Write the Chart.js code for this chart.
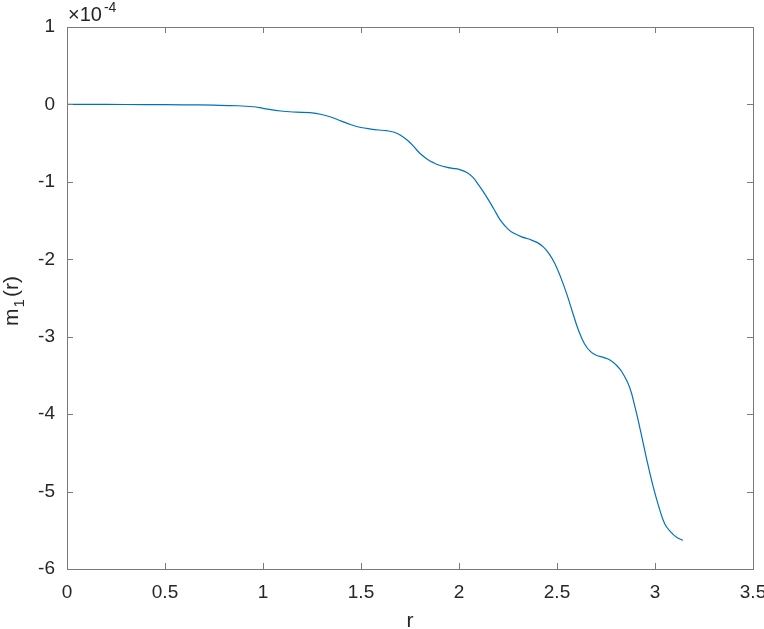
<!DOCTYPE html>
<html>
<head>
<meta charset="utf-8">
<script src="https://cdn.jsdelivr.net/npm/chart.js@4"></script>
<style>
  html, body { margin: 0; padding: 0; background: #fff; }
  #wrap { width: 764px; height: 629px; }
</style>
</head>
<body>
<div id="wrap"><canvas id="plot_m1"></canvas></div>
<script>
// r values
const r_vals = [0, 0.2, 0.4, 0.6, 0.75, 0.87, 0.95, 1.0, 1.09, 1.17, 1.24, 1.30, 1.35, 1.40,
                1.45, 1.50, 1.55, 1.59, 1.63, 1.67, 1.70, 1.74, 1.77, 1.80, 1.84, 1.87, 1.90,
                1.94, 1.97, 2.0, 2.04, 2.07, 2.10, 2.14, 2.18, 2.21, 2.25, 2.28, 2.32, 2.36,
                2.40, 2.43, 2.46, 2.49, 2.52, 2.55, 2.58, 2.61, 2.64, 2.67, 2.70, 2.74, 2.77,
                2.80, 2.83, 2.87, 2.90, 2.93, 2.96, 2.99, 3.02, 3.05, 3.08, 3.11, 3.1416];
// m_1(r) in units of 1e-4
const m1_e4 = [0, 0, -0.002, -0.005, -0.01, -0.017, -0.03, -0.05, -0.085, -0.1, -0.107, -0.13,
               -0.165, -0.215, -0.262, -0.298, -0.318, -0.33, -0.339, -0.36, -0.395, -0.47,
               -0.546, -0.63, -0.71, -0.753, -0.785, -0.812, -0.826, -0.839, -0.88, -0.94,
               -1.04, -1.19, -1.36, -1.49, -1.61, -1.665, -1.71, -1.742, -1.785, -1.84, -1.93,
               -2.06, -2.24, -2.45, -2.69, -2.92, -3.09, -3.19, -3.24, -3.27, -3.30, -3.36,
               -3.45, -3.65, -3.93, -4.26, -4.61, -4.93, -5.20, -5.42, -5.52, -5.59, -5.63];

const x_ticks = [0, 0.5, 1, 1.5, 2, 2.5, 3, 3.5];
const y_ticks = [-6, -5, -4, -3, -2, -1, 0, 1];
const exp_label = ['\u00d710', '-4'];
const x_title = 'r';
const y_title = ['m', '1', '(r)'];

const FONT = '"Liberation Sans", Arial, Helvetica, sans-serif';
const TXT = '#262626';
const AXC = '#7a7a7a';

function createData(xs, ys) {
    return xs.map((x, i) => ({ x: x, y: ys[i] }));
}

// box, inward ticks, exponent and axis titles (MATLAB look)
const matlabAxes = {
    id: 'matlabAxes',
    afterDraw(chart) {
        const c = chart.ctx;
        const a = chart.chartArea;
        const xs = chart.scales.x, ys = chart.scales.y;
        const tl = 6;
        c.save();
        c.strokeStyle = AXC;
        c.lineWidth = 1;
        c.strokeRect(Math.round(a.left) + 0.5, Math.round(a.top) + 0.5,
                     Math.round(a.right - a.left), Math.round(a.bottom - a.top));
        c.beginPath();
        x_ticks.forEach(v => {
            const px = Math.round(xs.getPixelForValue(v)) + 0.5;
            c.moveTo(px, a.bottom); c.lineTo(px, a.bottom - tl);
            c.moveTo(px, a.top); c.lineTo(px, a.top + tl);
        });
        y_ticks.forEach(v => {
            const py = Math.round(ys.getPixelForValue(v)) + 0.5;
            c.moveTo(a.left, py); c.lineTo(a.left + tl, py);
            c.moveTo(a.right, py); c.lineTo(a.right - tl, py);
        });
        c.stroke();

        c.fillStyle = TXT;
        c.textAlign = 'left';
        c.textBaseline = 'alphabetic';
        // exponent
        c.font = '20px ' + FONT;
        c.fillText(exp_label[0], a.left + 1, 21);
        const w = c.measureText(exp_label[0]).width;
        c.font = '14px ' + FONT;
        c.fillText(exp_label[1], a.left + 3 + w, 12);

        // x title
        c.font = '21px ' + FONT;
        c.textAlign = 'center';
        c.fillText(x_title, (a.left + a.right) / 2, 627);

        // y title, rotated, with subscript
        c.translate(18, 301);
        c.rotate(-Math.PI / 2);
        c.textAlign = 'left';
        c.font = '21px ' + FONT;
        const w0 = c.measureText(y_title[0]).width;
        const w2 = c.measureText(y_title[2]).width;
        c.font = '15px ' + FONT;
        const w1 = c.measureText(y_title[1]).width;
        const start = -(w0 + w1 + w2 + 3) / 2;
        c.font = '21px ' + FONT;
        c.fillText(y_title[0], start, 0);
        c.font = '15px ' + FONT;
        c.fillText(y_title[1], start + w0 + 1, 6);
        c.font = '21px ' + FONT;
        c.fillText(y_title[2], start + w0 + w1 + 3, 0);
        c.restore();
    }
};

const ctx = document.getElementById('plot_m1').getContext('2d');

const plot_m1 = new Chart(ctx, {
    type: 'line',
    data: {
        datasets: [{
            label: 'm1(r)',
            data: createData(r_vals, m1_e4),
            borderColor: '#0072BD',
            borderWidth: 1.2,
            pointRadius: 0,
            fill: false,
            tension: 0.4,
        }],
    },
    options: {
        responsive: true,
        maintainAspectRatio: false,
        animation: false,
        layout: { padding: { top: 27, right: 11, left: 0, bottom: 0 } },
        scales: {
            x: {
                type: 'linear',
                min: 0,
                max: 3.5,
                afterBuildTicks: s => { s.ticks = x_ticks.map(v => ({ value: v })); },
                afterFit: s => { s.height = 60; s.paddingLeft = 0; s.paddingRight = 0; },
                grid: { display: false, drawTicks: false },
                border: { display: false },
                ticks: {
                    padding: 12,
                    color: TXT,
                    font: { family: FONT, size: 19 },
                    maxRotation: 0,
                    callback: v => String(+v.toFixed(2)),
                },
            },
            y: {
                type: 'linear',
                min: -6,
                max: 1,
                afterBuildTicks: s => { s.ticks = y_ticks.map(v => ({ value: v })); },
                afterFit: s => { s.width = 67; s.paddingTop = 0; s.paddingBottom = 0; },
                grid: { display: false, drawTicks: false },
                border: { display: false },
                ticks: {
                    padding: 12,
                    color: TXT,
                    font: { family: FONT, size: 19 },
                    callback: v => String(v),
                },
            },
        },
        plugins: {
            legend: { display: false },
            tooltip: { enabled: false },
        },
    },
    plugins: [matlabAxes],
});
</script>
</body>
</html>
